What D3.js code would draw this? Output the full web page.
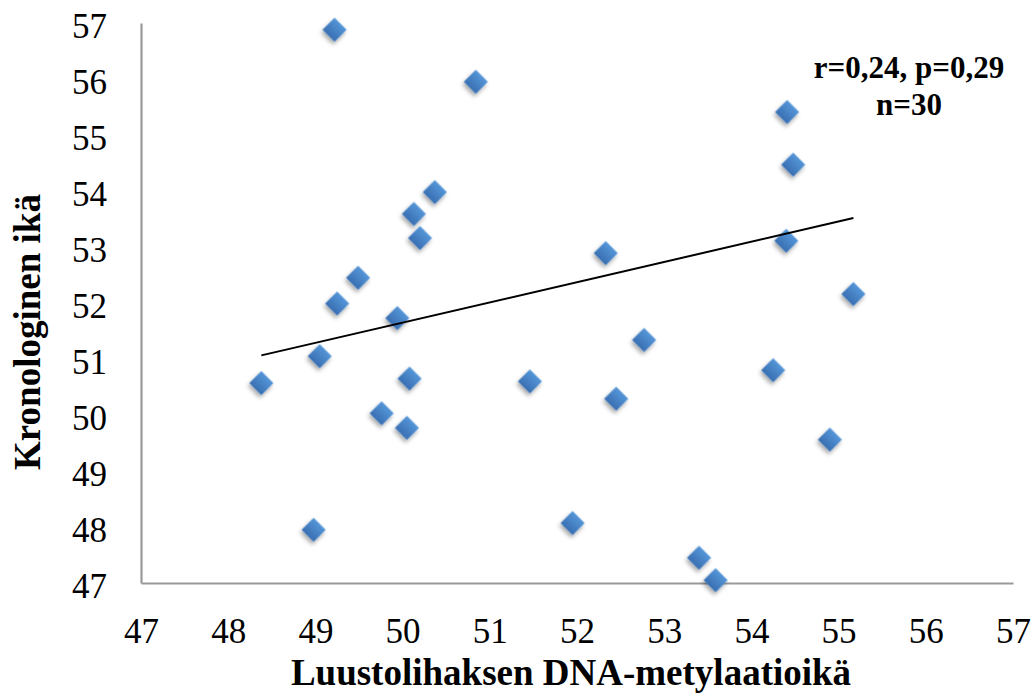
<!doctype html>
<html lang="fi">
<head>
<meta charset="utf-8">
<title>Kronologinen ikä vs DNA-metylaatioikä</title>
<style>
  body { margin: 0; background: #fff; }
</style>
</head>
<body>
<div id="chart"></div>
<script src="https://cdn.jsdelivr.net/npm/d3@7"></script>
<script>
// data
var dnaAge = [49.22, 50.84, 54.41, 54.48, 50.37, 50.13, 50.20, 52.33, 54.40,
              49.49, 49.25, 55.17, 49.94, 52.77, 49.05, 48.38, 50.08, 51.46,
              54.25, 52.45, 49.76, 50.05, 54.90, 51.95, 48.98, 53.40, 53.59];
var chronAge = [56.88, 55.95, 55.41, 54.47, 53.98, 53.59, 53.16, 52.89, 53.11,
                52.45, 51.99, 52.16, 51.73, 51.34, 51.05, 50.57, 50.65, 50.60,
                50.80, 50.29, 50.03, 49.77, 49.56, 48.07, 47.95, 47.45, 47.05];
var xTicks = [47, 48, 49, 50, 51, 52, 53, 54, 55, 56, 57];
var yTicks = [47, 48, 49, 50, 51, 52, 53, 54, 55, 56, 57];
var trendSlope = 0.361, trendIntercept = 33.60;
var statLines = ["r=0,24, p=0,29", "n=30"];

var serif = "Liberation Serif, Times New Roman, serif";
var width = 1036, height = 698;

var svg = d3.select("#chart").append("svg")
    .attr("width", width)
    .attr("height", height)
    .style("font-family", serif);

var x = d3.scaleLinear().domain([47, 57]).range([141, 1013]);
var y = d3.scaleLinear().domain([47, 57]).range([583, 23]);

// marker gradient + shadow
var defs = svg.append("defs");
var grad = defs.append("linearGradient")
    .attr("id", "blue")
    .attr("x1", 0).attr("y1", 0).attr("x2", 0).attr("y2", 1);
grad.append("stop").attr("offset", "0%").attr("stop-color", "#5596d8");
grad.append("stop").attr("offset", "100%").attr("stop-color", "#386fb2");

var shadow = defs.append("filter")
    .attr("id", "shadow")
    .attr("x", "-50%").attr("y", "-50%").attr("width", "200%").attr("height", "200%");
shadow.append("feDropShadow")
    .attr("dx", 1).attr("dy", 3)
    .attr("stdDeviation", 2)
    .attr("flood-color", "#000")
    .attr("flood-opacity", 0.35);

// axes: only the lines and labels, no tick marks
var xAxis = svg.append("g")
    .attr("transform", "translate(0," + y(47) + ")")
    .call(d3.axisBottom(x).tickValues(xTicks).tickSize(0).tickPadding(0).tickFormat(d3.format("d")));

var yAxis = svg.append("g")
    .attr("transform", "translate(" + x(47) + ",0)")
    .call(d3.axisLeft(y).tickValues(yTicks).tickSize(0).tickPadding(0).tickFormat(d3.format("d")));

xAxis.selectAll("text")
    .attr("y", 60)
    .attr("dy", null)
    .attr("fill", "#000")
    .style("font-family", serif)
    .style("font-size", "35px");

yAxis.selectAll("text")
    .attr("x", -34)
    .attr("dy", null)
    .attr("y", 14)
    .attr("fill", "#000")
    .style("font-family", serif)
    .style("font-size", "35px");

svg.selectAll(".domain")
    .attr("stroke", "#999")
    .attr("stroke-width", 2.2);

// scatter points
var pts = dnaAge.map(function(d, i) { return {x: d, y: chronAge[i]}; });

svg.append("g")
  .selectAll("path")
  .data(pts)
  .enter()
  .append("path")
    .attr("d", d3.symbol().type(d3.symbolSquare).size(290))
    .attr("transform", function(d) { return "translate(" + x(d.x) + "," + y(d.y) + ") rotate(45)"; })
    .attr("fill", "url(#blue)")
    .attr("filter", "url(#shadow)");

// linear trend line over data range
var xr = d3.extent(dnaAge);
svg.append("line")
    .attr("x1", x(xr[0]))
    .attr("y1", y(trendIntercept + trendSlope * xr[0]))
    .attr("x2", x(xr[1]))
    .attr("y2", y(trendIntercept + trendSlope * xr[1]))
    .attr("stroke", "#000")
    .attr("stroke-width", 2);

// stats annotation
svg.append("g")
  .selectAll("text")
  .data(statLines)
  .enter()
  .append("text")
    .attr("x", 909)
    .attr("y", function(d, i) { return 78 + i * 37; })
    .attr("text-anchor", "middle")
    .style("font-size", "31px")
    .style("font-weight", "bold")
    .text(function(d) { return d; });

// axis titles
svg.append("text")
    .attr("x", 571)
    .attr("y", 685)
    .attr("text-anchor", "middle")
    .style("font-size", "37px")
    .style("font-weight", "bold")
    .text("Luustolihaksen DNA-metylaatioikä");

svg.append("text")
    .attr("transform", "translate(40,332) rotate(-90)")
    .attr("text-anchor", "middle")
    .style("font-size", "37px")
    .style("font-weight", "bold")
    .text("Kronologinen ikä");
</script>
</body>
</html>
